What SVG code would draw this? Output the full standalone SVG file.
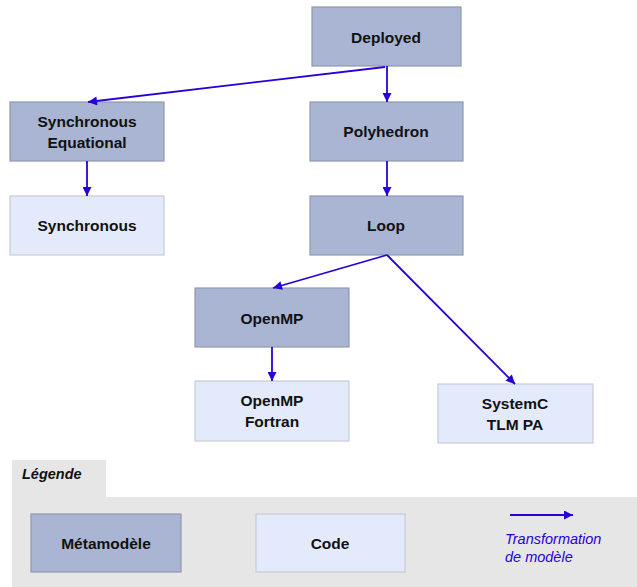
<svg xmlns="http://www.w3.org/2000/svg" width="637" height="587" viewBox="0 0 637 587">
<style>
.meta{fill:#a9b5d3;stroke:#8f98ad;stroke-width:1.2}
.code{fill:#e2eafb;stroke:#c7cbd4;stroke-width:1.2}
.lbl{font-family:"Liberation Sans",Arial,sans-serif;font-weight:bold;font-size:15.5px;fill:#111;text-anchor:middle}
.conn{stroke:#2a00d6;stroke-width:1.8;fill:none;marker-end:url(#ah)}
.leg{font-family:"Liberation Sans",Arial,sans-serif;font-style:italic;font-size:14.5px;fill:#2a00d6}
</style>
<defs>
<marker id="ah" viewBox="0 0 10 10" refX="10" refY="5" markerWidth="10" markerHeight="9" markerUnits="userSpaceOnUse" orient="auto">
<path d="M0,0 L10,5 L0,10 Z" fill="#2a00d6"/>
</marker>
</defs>
<rect width="637" height="587" fill="#fff"/>
<g id="legend">
<path d="M12,460 H106 V497 H637 V587 H12 Z" fill="#e6e6e6"/>
<text x="22" y="479" font-family="Liberation Sans,Arial,sans-serif" font-weight="bold" font-style="italic" font-size="14.5" fill="#111">Légende</text>
<rect class="meta" x="31" y="514" width="150" height="58"/>
<text class="lbl" x="106" y="549">Métamodèle</text>
<rect class="code" x="256" y="514" width="149" height="58"/>
<text class="lbl" x="330" y="549">Code</text>
<line class="conn" x1="510" y1="515" x2="573" y2="515"/>
<text class="leg" x="505" y="544">Transformation</text>
<text class="leg" x="505" y="562">de modèle</text>
</g>
<g id="deployed"><rect class="meta" x="312" y="7" width="149" height="59"/><text class="lbl" x="386" y="43">Deployed</text></g>
<g id="syncEq"><rect class="meta" x="10" y="102" width="154" height="59"/><text class="lbl" x="87" y="127">Synchronous</text><text class="lbl" x="87" y="148">Equational</text></g>
<g id="polyhedron"><rect class="meta" x="310" y="102" width="153" height="59"/><text class="lbl" x="386" y="137">Polyhedron</text></g>
<g id="synchronous"><rect class="code" x="10" y="196" width="154" height="59"/><text class="lbl" x="87" y="231">Synchronous</text></g>
<g id="loop"><rect class="meta" x="310" y="196" width="153" height="59"/><text class="lbl" x="386" y="231">Loop</text></g>
<g id="openmp"><rect class="meta" x="195" y="288" width="154" height="59"/><text class="lbl" x="272" y="324">OpenMP</text></g>
<g id="openmpFortran"><rect class="code" x="195" y="381" width="154" height="60"/><text class="lbl" x="272" y="406">OpenMP</text><text class="lbl" x="272" y="427">Fortran</text></g>
<g id="systemc"><rect class="code" x="438" y="384" width="155" height="59"/><text class="lbl" x="515" y="409">SystemC</text><text class="lbl" x="515" y="430">TLM PA</text></g>
<g id="connectors">
<line class="conn" x1="387" y1="66" x2="387" y2="102"/>
<line class="conn" x1="385" y1="67" x2="88" y2="102"/>
<line class="conn" x1="387" y1="161" x2="387" y2="196"/>
<line class="conn" x1="87" y1="161" x2="87" y2="196"/>
<line class="conn" x1="387" y1="255" x2="273" y2="288"/>
<line class="conn" x1="387" y1="255" x2="515" y2="384"/>
<line class="conn" x1="272" y1="347" x2="272" y2="381"/>
</g>
</svg>
